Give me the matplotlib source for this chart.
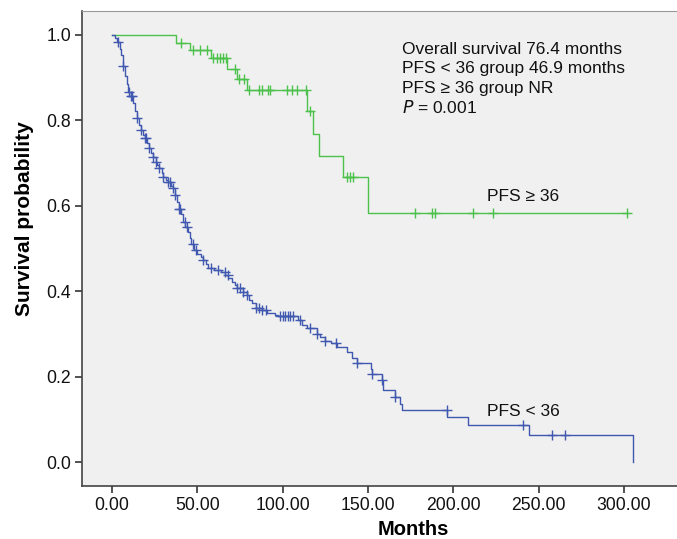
import numpy as np
import matplotlib
matplotlib.use('Agg')
import matplotlib.pyplot as plt
from matplotlib.ticker import FormatStrFormatter

plt.rcParams['font.family'] = ['Liberation Sans', 'DejaVu Sans']

# PFS < 36 group (blue)
low_times = [1.5, 3, 4.5, 5.5, 6.5, 7.5, 8.5, 9.5, 11, 12.5, 13.5, 14.8, 16, 16.8, 18, 19.3,
             20.5, 21.9, 23, 24.2, 25.5, 26.5, 27.7, 29, 30.1, 31.5, 33, 34.5, 35.6, 36.9,
             38, 39.4, 40.5, 41.8, 43, 44.5, 45.7, 46.5, 48, 50, 52, 53.5, 55, 56.4, 60, 64,
             66.2, 68.1, 70.1, 72, 73.4, 76.9, 79.3, 80.5, 81.9, 84.4, 88, 91, 95.5, 97,
             109.2, 111.1, 114.1, 119.9, 122, 124.8, 128, 131.6, 137.5, 140.4, 143.4, 151.5,
             152.2, 158, 158.5, 159, 165.8, 168.7, 169.7, 196.4, 208.4, 244, 305.1]
low_surv = [0.992, 0.984, 0.968, 0.952, 0.928, 0.905, 0.885, 0.866, 0.857, 0.840, 0.822, 0.806,
            0.790, 0.777, 0.766, 0.758, 0.746, 0.735, 0.724, 0.715, 0.703, 0.695, 0.688, 0.677,
            0.668, 0.660, 0.656, 0.647, 0.641, 0.625, 0.610, 0.592, 0.580, 0.563, 0.551, 0.538,
            0.524, 0.510, 0.496, 0.488, 0.480, 0.473, 0.463, 0.454, 0.450, 0.445, 0.437, 0.430,
            0.422, 0.414, 0.407, 0.399, 0.390, 0.380, 0.372, 0.360, 0.355, 0.350, 0.344, 0.342,
            0.333, 0.321, 0.313, 0.301, 0.293, 0.284, 0.278, 0.270, 0.258, 0.243, 0.231, 0.218,
            0.206, 0.192, 0.181, 0.169, 0.153, 0.137, 0.122, 0.105, 0.086, 0.063, 0.0]
low_censor = [3.7, 6.6, 10, 11, 11.5, 14.8, 16.8, 19.3, 20, 21.9, 24.2, 26, 27.7, 30.1, 33, 34,
              35.6, 36.9, 39.4, 40, 42.8, 44.1, 47.5, 49, 53.5, 58, 62.3, 66, 68, 73.4, 75, 77,
              79.3, 84.4, 86, 88, 90, 98.4, 100, 101.5, 103, 104.5, 106, 110, 116, 119.9, 124.8,
              131, 143.4, 152.2, 158, 166, 196, 241, 257.6, 265.4]
low_end = 305.1

# PFS >= 36 group (green)
high_times = [37.3, 45.7, 57.8, 67.6, 73, 78.9, 114.4, 118, 121.3, 135.5, 149.8]
high_surv = [0.982, 0.965, 0.945, 0.921, 0.896, 0.870, 0.823, 0.769, 0.717, 0.667, 0.584]
high_censor = [40.2, 47.3, 51.6, 55.8, 59, 61.6, 63, 65, 66.5, 72, 74.6, 77.3, 80.5, 86.3, 87.7,
               91.6, 92.6, 102.7, 105.3, 108.6, 113.5, 116, 137.7, 139.5, 141, 177.5, 187.5,
               189, 211.3, 223.4, 301.5]
high_end = 302.5

annot_lines = ["Overall survival 76.4 months", "PFS < 36 group 46.9 months",
               "PFS \u2265 36 group NR", "$\\mathit{P}$ = 0.001"]

blue = '#4058b0'
green = '#4cc24c'

fig = plt.figure(figsize=(6.77, 5.39), dpi=100)
W, H = 677, 539
ax = fig.add_axes([82 / W, (H - 486) / H, (W - 82) / W, (486 - 11) / H])
ax.set_facecolor('#f0f0f0')


def draw(times, surv, censor, end, color):
    x = [0.0] + list(times) + [end]
    y = [1.0] + list(surv) + [surv[-1]]
    ax.step(x, y, where='post', color=color, lw=1.0)
    levels = np.array([1.0] + list(surv))
    idx = np.searchsorted(np.array(times), np.array(censor), side='right')
    ax.plot(censor, levels[idx], linestyle='none', marker='+', ms=7, mew=1.0, color=color)


draw(high_times, high_surv, high_censor, high_end, green)
draw(low_times, low_surv, low_censor, low_end, blue)

ax.set_xlim(-17.6, 331)
ax.set_ylim(-0.056, 1.056)
ax.set_xticks(np.arange(0, 301, 50))
ax.set_yticks(np.arange(0, 1.01, 0.2))
ax.xaxis.set_major_formatter(FormatStrFormatter('%.2f'))
ax.yaxis.set_major_formatter(FormatStrFormatter('%.1f'))
ax.tick_params(direction='out', length=5, width=1.2, colors='#333333', labelsize=12.7,
               labelcolor='#111111')
ax.tick_params(axis='x', pad=3)
ax.tick_params(axis='y', pad=3)

for s in ['left', 'bottom']:
    ax.spines[s].set_color('#444444')
    ax.spines[s].set_linewidth(1.2)
ax.spines['top'].set_color('#999999')
ax.spines['right'].set_visible(False)

ax.set_xlabel('Months', fontsize=14.5, fontweight='bold', va='center')
ax.set_ylabel('Survival probability', fontsize=15, fontweight='bold')
ax.yaxis.set_label_coords(-0.081, 0.562)
ax.xaxis.set_label_coords(0.556, -0.092)

for i, line in enumerate(annot_lines):
    ax.text(169.7, 0.966 - i * 0.0452, line, fontsize=12.5, va='center', ha='left', color='#111111')

ax.text(219.5, 0.621, "PFS \u2265 36", fontsize=12.5, va='center', ha='left', color='#111111')
ax.text(219.5, 0.119, "PFS < 36", fontsize=12.5, va='center', ha='left', color='#111111')

fig.savefig('out.png', dpi=100)
